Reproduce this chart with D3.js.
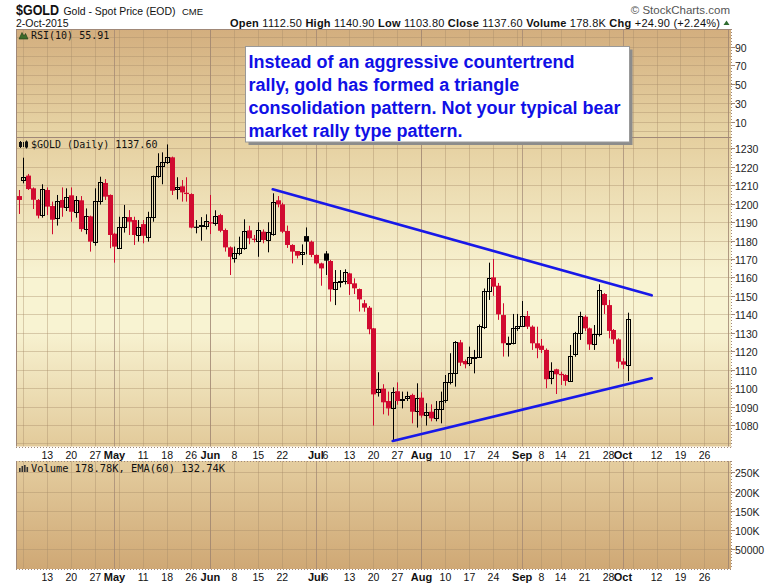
<!DOCTYPE html>
<html>
<head>
<meta charset="utf-8">
<script src="https://cdn.jsdelivr.net/npm/d3@7/dist/d3.min.js"></script>
<style>
  html, body { margin: 0; padding: 0; background: #fff; }
  svg { display: block; font-family: Arial, "Liberation Sans", sans-serif; }
</style>
</head>
<body>
<svg id="chart" width="780" height="586"></svg>
<script>
// ---- Daily $GOLD candles (spot, EOD) ----
const dates = [
  "2015-04-02","2015-04-06","2015-04-07","2015-04-08","2015-04-09","2015-04-10",
  "2015-04-13","2015-04-14","2015-04-15","2015-04-16","2015-04-17",
  "2015-04-20","2015-04-21","2015-04-22","2015-04-23","2015-04-24",
  "2015-04-27","2015-04-28","2015-04-29","2015-04-30","2015-05-01",
  "2015-05-04","2015-05-05","2015-05-06","2015-05-07","2015-05-08",
  "2015-05-11","2015-05-12","2015-05-13","2015-05-14","2015-05-15",
  "2015-05-18","2015-05-19","2015-05-20","2015-05-21","2015-05-22",
  "2015-05-26","2015-05-27","2015-05-28","2015-05-29",
  "2015-06-01","2015-06-02","2015-06-03","2015-06-04","2015-06-05",
  "2015-06-08","2015-06-09","2015-06-10","2015-06-11","2015-06-12",
  "2015-06-15","2015-06-16","2015-06-17","2015-06-18","2015-06-19",
  "2015-06-22","2015-06-23","2015-06-24","2015-06-25","2015-06-26",
  "2015-06-29","2015-06-30","2015-07-01","2015-07-02",
  "2015-07-06","2015-07-07","2015-07-08","2015-07-09","2015-07-10",
  "2015-07-13","2015-07-14","2015-07-15","2015-07-16","2015-07-17",
  "2015-07-20","2015-07-21","2015-07-22","2015-07-23","2015-07-24",
  "2015-07-27","2015-07-28","2015-07-29","2015-07-30","2015-07-31",
  "2015-08-03","2015-08-04","2015-08-05","2015-08-06","2015-08-07",
  "2015-08-10","2015-08-11","2015-08-12","2015-08-13","2015-08-14",
  "2015-08-17","2015-08-18","2015-08-19","2015-08-20","2015-08-21",
  "2015-08-24","2015-08-25","2015-08-26","2015-08-27","2015-08-28",
  "2015-08-31","2015-09-01","2015-09-02","2015-09-03","2015-09-04",
  "2015-09-08","2015-09-09","2015-09-10","2015-09-11",
  "2015-09-14","2015-09-15","2015-09-16","2015-09-17","2015-09-18",
  "2015-09-21","2015-09-22","2015-09-23","2015-09-24","2015-09-25",
  "2015-09-28","2015-09-29","2015-09-30","2015-10-01","2015-10-02"
];
const opens = [
  1204.1,1212.6,1215.2,1208.3,1202.0,1193.6,1207.4,1198.7,1192.0,1202.0,1198.4,
  1204.5,1195.6,1201.8,1186.4,1193.1,1179.0,1201.2,1211.2,1204.7,1183.7,
  1176.1,1187.1,1192.7,1191.1,1183.2,1188.9,1182.1,1192.6,1214.8,1220.6,
  1222.7,1225.1,1207.7,1209.4,1205.9,1205.2,1187.5,1187.9,1187.9,
  1189.9,1189.3,1193.8,1185.7,1176.3,1170.7,1173.1,1175.8,1185.5,1181.0,
  1179.7,1184.8,1180.3,1183.7,1201.8,1199.6,1185.2,1177.6,1174.3,1172.5,
  1182.4,1179.4,1172.2,1167.6,1173.0,1168.9,1153.5,1157.3,1158.2,
  1162.2,1156.8,1153.7,1146.0,1143.6,1132.4,1097.7,1099.7,1093.0,1089.0,
  1098.3,1093.6,1094.5,1096.3,1087.6,1094.8,1085.4,1087.2,1083.6,1088.5,
  1093.6,1103.5,1108.0,1124.8,1114.7,1113.4,1116.8,1116.9,1133.0,1152.8,
  1160.0,1155.5,1139.6,1124.0,1124.3,1132.4,1133.7,1139.1,1133.3,1124.3,
  1123.0,1120.7,1105.3,1110.2,1107.7,1107.1,1104.0,1118.3,1129.7,
  1138.7,1132.4,1123.7,1129.2,1151.0,1145.0,1131.5,1126.4,1114.5,1112.5
];
const highs = [
  1207.4,1224.9,1216.1,1208.8,1202.5,1210.5,1208.8,1201.1,1204.7,1208.8,1208.3,
  1208.8,1204.1,1204.1,1197.4,1193.5,1208.3,1214.6,1213.3,1205.0,1184.2,
  1192.9,1199.3,1196.5,1192.9,1191.1,1191.1,1195.6,1215.2,1227.3,1227.8,
  1232.1,1225.5,1214.3,1212.8,1214.3,1205.6,1191.1,1192.7,1194.2,
  1204.7,1196.4,1194.5,1186.5,1176.8,1176.7,1182.1,1191.5,1188.0,1183.0,
  1189.9,1186.0,1189.9,1205.6,1204.1,1200.5,1188.1,1178.0,1174.3,1177.9,
  1187.1,1180.0,1172.5,1168.0,1174.3,1169.5,1164.0,1164.0,1164.4,
  1162.5,1159.5,1154.0,1147.8,1144.5,1132.6,1108.6,1102.1,1098.1,1100.4,
  1103.1,1098.1,1098.1,1097.0,1102.6,1097.7,1091.8,1091.2,1093.0,1098.1,
  1107.1,1118.9,1125.5,1126.1,1115.5,1122.5,1120.7,1134.5,1154.0,1168.0,
  1170.0,1157.0,1146.0,1127.9,1140.2,1140.2,1147.2,1141.8,1134.0,1133.3,
  1126.6,1121.5,1114.0,1110.5,1108.9,1107.5,1123.4,1130.5,1141.4,
  1139.5,1132.8,1134.2,1156.3,1151.5,1147.8,1132.0,1127.0,1116.2,1140.9
];
const lows = [
  1194.4,1211.0,1207.4,1197.1,1192.0,1192.4,1193.8,1183.4,1188.1,1192.9,1196.0,
  1190.2,1192.4,1184.8,1183.4,1174.0,1177.2,1199.5,1202.0,1175.8,1168.0,
  1175.8,1184.3,1183.0,1177.6,1179.4,1178.5,1179.4,1190.2,1214.0,1210.5,
  1221.5,1204.7,1202.3,1201.1,1201.1,1186.6,1183.9,1179.9,1186.0,
  1183.5,1188.0,1184.5,1174.0,1161.3,1168.0,1172.0,1175.0,1178.0,1179.0,
  1171.2,1178.5,1173.6,1182.6,1198.0,1184.0,1176.0,1167.6,1170.3,1166.7,
  1172.5,1171.0,1167.0,1155.5,1161.3,1146.9,1145.0,1154.6,1156.2,
  1150.5,1151.0,1141.5,1141.4,1129.2,1079.7,1095.4,1085.8,1085.1,1071.3,
  1091.0,1089.0,1093.0,1080.9,1078.6,1084.0,1079.7,1082.0,1082.0,1080.9,
  1092.0,1102.0,1100.8,1112.0,1110.7,1112.0,1108.0,1116.5,1132.0,1147.8,
  1150.0,1137.0,1117.1,1117.1,1123.7,1131.0,1133.3,1132.0,1120.7,1116.2,
  1119.0,1099.9,1102.1,1096.8,1101.7,1101.3,1103.5,1117.0,1126.1,
  1131.0,1120.7,1120.7,1128.0,1140.2,1127.0,1124.0,1110.7,1110.4,1103.8
];
const closes = [
  1202.0,1214.3,1207.9,1202.1,1193.5,1207.7,1198.4,1191.3,1201.2,1197.8,1203.4,
  1195.6,1201.8,1186.2,1193.1,1179.4,1201.2,1211.5,1203.8,1183.0,1176.7,
  1187.1,1192.7,1190.2,1183.0,1187.1,1182.6,1192.6,1214.8,1220.6,1222.7,
  1225.1,1207.0,1209.2,1206.1,1205.2,1187.0,1187.2,1188.2,1190.4,
  1189.3,1193.3,1185.3,1176.3,1171.2,1173.1,1175.8,1185.2,1181.2,1180.6,
  1185.7,1180.3,1184.4,1200.7,1199.6,1184.8,1177.6,1174.0,1171.8,1173.6,
  1179.4,1172.2,1167.6,1164.9,1169.1,1153.5,1157.3,1158.2,1162.7,
  1156.4,1154.1,1148.1,1143.6,1131.9,1096.6,1099.7,1092.3,1089.0,1098.1,
  1093.0,1093.9,1095.7,1087.2,1094.5,1085.1,1086.9,1083.6,1088.7,1093.0,
  1103.5,1108.0,1124.8,1113.8,1112.9,1116.9,1117.0,1133.7,1152.6,1159.5,
  1155.0,1140.0,1124.3,1124.6,1132.4,1133.7,1139.1,1133.3,1124.3,1121.6,
  1120.7,1104.8,1109.5,1107.5,1107.0,1103.9,1117.6,1129.7,1139.1,
  1132.4,1123.7,1129.2,1153.2,1145.0,1131.0,1126.4,1114.3,1112.7,1137.6
];
const priorClose = 1208.0;   // close of the session before the first candle

// Hand-drawn triangle boundaries: [date, price]
const upperTrend = [["2015-06-18", 1207.8], ["2015-10-09", 1150.3]];
const lowerTrend = [["2015-07-24", 1071.3], ["2015-10-09", 1105.3]];

// Axis labels
const dayTicks   = ["2015-04-13","2015-04-20","2015-04-27","2015-05-11","2015-05-18","2015-05-26",
                    "2015-06-08","2015-06-15","2015-06-22","2015-07-06","2015-07-13","2015-07-20",
                    "2015-07-27","2015-08-10","2015-08-17","2015-08-24","2015-09-08","2015-09-14",
                    "2015-09-21","2015-09-28","2015-10-12","2015-10-19","2015-10-26"];
const monthTicks = ["2015-05-01","2015-06-01","2015-07-01","2015-08-03","2015-09-01","2015-10-01"];
const monthNames = ["May","Jun","Jul","Aug","Sep","Oct"];
const priceTicks = [1080,1090,1100,1110,1120,1130,1140,1150,1160,1170,1180,1190,1200,1210,1220,1230];
const rsiTicks   = [10,30,50,70,90];
const volTicks   = [50000,100000,150000,200000,250000];
const volTickLabels = ["50000","100K","150K","200K","250K"];

const header = {
  symbol: "$GOLD", name: "Gold - Spot Price (EOD)", exch: "CME", date: "2-Oct-2015",
  fields: [["Open","1112.50"],["High","1140.90"],["Low","1103.80"],["Close","1137.60"],
           ["Volume","178.8K"],["Chg","+24.90 (+2.24%)"]]
};
const rsiLabel = "RSI(10) 55.91";
const priceLabel = "$GOLD (Daily) 1137.60";
const volLabel = "Volume 178.78K, EMA(60) 132.74K";
const note = ["Instead of an aggressive countertrend",
              "rally, gold has formed a triangle",
              "consolidation pattern. Not your typical bear",
              "market rally type pattern."];

// ---- layout ----
const L = 16, R = 731;
const rsiP = {top: 29, bottom: 137};
const priceP = {top: 137, bottom: 446.5};
const volP = {top: 461, bottom: 569};

const svg = d3.select("#chart");
const defs = svg.append("defs");

function grad(id, stops) {
  const g = defs.append("linearGradient").attr("id", id)
    .attr("x1", 0).attr("y1", 0).attr("x2", 0).attr("y2", 1);
  stops.forEach(([o, c]) => g.append("stop").attr("offset", o).attr("stop-color", c));
}
grad("gRsi",   [[0, "#d3ae7e"], [1, "#e8d6a7"]]);
grad("gPrice", [[0, "#e5cf9f"], [0.45, "#f8f3d2"], [0.62, "#f8f3d2"], [1, "#e2ca9a"]]);
grad("gVol",   [[0, "#e4cd9f"], [1, "#cfa875"]]);

defs.append("clipPath").attr("id", "clipPrice").append("rect")
  .attr("x", L).attr("y", priceP.top).attr("width", R - L).attr("height", priceP.bottom - priceP.top);

// ---- scales ----
const parse = d3.timeParse("%Y-%m-%d");
const fmt = d3.timeFormat("%Y-%m-%d");
const future = d3.timeDay.range(parse("2015-10-05"), parse("2015-11-03"))
  .filter(d => d.getDay() !== 0 && d.getDay() !== 6).map(fmt);
const axisDates = dates.concat(future);

const x = d3.scalePoint().domain(axisDates).range([18.5, 18.5 + 4.797 * (axisDates.length - 1)]);
const y = d3.scaleLinear().domain([1080, 1230]).range([425, 148.3]);
const yRsi = d3.scaleLinear().domain([10, 90]).range([121.7, 46.7]);
const yVol = d3.scaleLinear().domain([0, 250000]).range([568.5, 472.3]);

// ---- panel backgrounds ----
[[rsiP, "gRsi"], [priceP, "gPrice"], [volP, "gVol"]].forEach(([p, g]) => {
  svg.append("rect").attr("x", L).attr("y", p.top).attr("width", R - L)
    .attr("height", p.bottom - p.top).attr("fill", `url(#${g})`);
});

// ---- vertical grid: first session of each week and of each month ----
const weekStarts = [], monthStarts = [];
axisDates.forEach((d, i) => {
  if (i === 0) return;
  const cur = parse(d), prev = parse(axisDates[i - 1]);
  if (cur.getMonth() !== prev.getMonth()) monthStarts.push(d);
  if (d3.timeMonday.floor(cur).getTime() !== d3.timeMonday.floor(prev).getTime()) weekStarts.push(d);
});
const vGrid = svg.append("g");
[rsiP, priceP, volP].forEach(p => {
  vGrid.selectAll(null).data(weekStarts).enter().append("line")
    .attr("x1", d => Math.round(x(d)) + 0.5).attr("x2", d => Math.round(x(d)) + 0.5)
    .attr("y1", p.top).attr("y2", p.bottom)
    .attr("stroke", "#a88c68").attr("stroke-opacity", 0.4);
  vGrid.selectAll(null).data(monthStarts).enter().append("line")
    .attr("x1", d => Math.round(x(d)) + 0.5).attr("x2", d => Math.round(x(d)) + 0.5)
    .attr("y1", p.top).attr("y2", p.bottom)
    .attr("stroke", "#9a8070").attr("stroke-opacity", 0.65);
});

// ---- horizontal grid ----
const hGrid = svg.append("g").attr("stroke", "#a88c68").attr("stroke-opacity", 0.4);
d3.range(0, 101, 10).forEach(v => {
  const yy = Math.round(yRsi(v)) + 0.5;
  if (yy > rsiP.top && yy < rsiP.bottom) hGrid.append("line").attr("x1", L).attr("x2", R).attr("y1", yy).attr("y2", yy);
});
d3.range(1070, 1241, 10).forEach(v => {
  const yy = Math.round(y(v)) + 0.5;
  if (yy > priceP.top && yy < priceP.bottom) hGrid.append("line").attr("x1", L).attr("x2", R).attr("y1", yy).attr("y2", yy);
});
volTicks.forEach(v => {
  const yy = Math.round(yVol(v)) + 0.5;
  hGrid.append("line").attr("x1", L).attr("x2", R).attr("y1", yy).attr("y2", yy);
});

// ---- candles ----
const candles = dates.map((d, i) => ({
  date: d, o: opens[i], h: highs[i], l: lows[i], c: closes[i],
  pc: i === 0 ? priorClose : closes[i - 1]
}));
const red = "#d10a30";
const gC = svg.append("g").attr("clip-path", "url(#clipPrice)");
candles.forEach(k => {
  const cx = Math.round(x(k.date));
  const col = k.c < k.pc ? red : "#000";
  const hollow = k.c > k.o;
  gC.append("line").attr("x1", cx + 0.5).attr("x2", cx + 0.5)
    .attr("y1", y(k.h)).attr("y2", y(k.l)).attr("stroke", col).attr("stroke-width", 1);
  const top = y(Math.max(k.o, k.c)), bot = y(Math.min(k.o, k.c));
  if (hollow) {
    const t = Math.round(top) + 0.5, b = Math.max(Math.round(bot) + 0.5, t + 1);
    gC.append("rect").attr("x", cx - 1.5).attr("y", t).attr("width", 4).attr("height", b - t)
      .attr("fill", "none").attr("stroke", col).attr("stroke-width", 1);
  } else {
    gC.append("rect").attr("x", cx - 2).attr("y", top).attr("width", 5)
      .attr("height", Math.max(bot - top, 1.2)).attr("fill", col);
  }
});

// ---- triangle trendlines ----
const trend = d3.line().x(d => x(d[0])).y(d => y(d[1]));
[upperTrend, lowerTrend].forEach(t => {
  svg.append("path").attr("d", trend(t)).attr("fill", "none")
    .attr("stroke", "#1818e8").attr("stroke-width", 2.6).attr("stroke-linecap", "round");
});

// ---- panel frames ----
const frame = svg.append("g").attr("fill", "none");
frame.append("line").attr("x1", L + 0.5).attr("x2", L + 0.5).attr("y1", rsiP.top).attr("y2", priceP.bottom).attr("stroke", "#a08878");
frame.append("line").attr("x1", L + 0.5).attr("x2", L + 0.5).attr("y1", volP.top).attr("y2", volP.bottom).attr("stroke", "#a08878");
frame.append("line").attr("x1", L).attr("x2", R).attr("y1", rsiP.top + 0.5).attr("y2", rsiP.top + 0.5).attr("stroke", "#a08878");
frame.append("line").attr("x1", L).attr("x2", R).attr("y1", rsiP.bottom + 0.5).attr("y2", rsiP.bottom + 0.5).attr("stroke", "#a08878");
[priceP.bottom, volP.top, volP.bottom].forEach(yy => {
  frame.append("line").attr("x1", L).attr("x2", R + 1).attr("y1", Math.round(yy) + 0.5).attr("y2", Math.round(yy) + 0.5)
    .attr("stroke", "#a08878").attr("stroke-dasharray", "1,2");
});
[[rsiP.top, priceP.bottom], [volP.top, volP.bottom]].forEach(([a, b]) => {
  frame.append("line").attr("x1", R + 0.5).attr("x2", R + 0.5).attr("y1", a).attr("y2", b)
    .attr("stroke", "#a08878").attr("stroke-dasharray", "1,2");
});

// ---- right axes ----
function rightAxis(scale, ticks, labels) {
  const g = svg.append("g").attr("font-size", 10.5).attr("fill", "#222");
  ticks.forEach((v, i) => {
    const yy = Math.round(scale(v)) + 0.5;
    g.append("line").attr("x1", R).attr("x2", R + 4).attr("y1", yy).attr("y2", yy).attr("stroke", "#a08878");
    g.append("text").attr("x", R + 4).attr("y", yy + 4).text(labels ? labels[i] : v);
  });
}
rightAxis(yRsi, rsiTicks);
rightAxis(y, priceTicks);
rightAxis(yVol, volTicks, volTickLabels);

// ---- date axes under price and volume panels ----
[458.5, 580.5].forEach(base => {
  const g = svg.append("g").attr("text-anchor", "middle").attr("fill", "#111");
  g.selectAll(null).data(dayTicks).enter().append("text")
    .attr("x", d => x(d)).attr("y", base).attr("font-size", 10.5).text(d => +d.slice(8));
  g.selectAll(null).data(monthTicks).enter().append("text")
    .attr("x", d => x(d)).attr("y", base).attr("font-size", 11).attr("font-weight", "bold")
    .text((d, i) => monthNames[i]);
});

// ---- panel captions ----
const mono = "'DejaVu Sans Mono', 'Liberation Mono', monospace";
svg.append("text").attr("x", 31).attr("y", 39).attr("font-family", mono).attr("font-size", 10).attr("fill", "#111").text(rsiLabel);
svg.append("text").attr("x", 31).attr("y", 148).attr("font-family", mono).attr("font-size", 10).attr("fill", "#111").text(priceLabel);
svg.append("text").attr("x", 31).attr("y", 472).attr("font-family", mono).attr("font-size", 10.4).attr("fill", "#111").text(volLabel);
// caption icons
svg.append("path").attr("d", "M19,39 L22,32.5 L24,36 L25.5,33.5 L28,39 Z").attr("fill", "#3d6b2a").attr("stroke", "#203a14").attr("stroke-width", 0.6);
const ic = svg.append("g").attr("stroke", "#111").attr("stroke-width", 1);
[[20.5, 141, 148], [23.5, 142, 147], [26.5, 140.5, 148.5]].forEach(([xx, a, b]) =>
  ic.append("line").attr("x1", xx).attr("x2", xx).attr("y1", a).attr("y2", b));
ic.append("rect").attr("x", 19.5).attr("y", 142.5).attr("width", 2).attr("height", 4).attr("fill", "none");
ic.append("rect").attr("x", 25.5).attr("y", 142).attr("width", 2).attr("height", 5).attr("fill", "#111");
const vi = svg.append("g").attr("fill", "#333");
[[19, 468, 4], [21.5, 466, 6], [24, 465, 7], [26.5, 467, 5]].forEach(([xx, yy, h]) =>
  vi.append("rect").attr("x", xx).attr("y", yy).attr("width", 1.6).attr("height", h));

// ---- header ----
svg.append("text").attr("x", 16).attr("y", 15).attr("font-size", 14).attr("font-weight", "bold").attr("fill", "#111")
  .attr("textLength", 43).attr("lengthAdjust", "spacingAndGlyphs").text(header.symbol);
svg.append("text").attr("x", 63.5).attr("y", 14.5).attr("font-size", 11).attr("fill", "#111")
  .attr("textLength", 112).attr("lengthAdjust", "spacingAndGlyphs").text(header.name);
svg.append("text").attr("x", 182).attr("y", 14.5).attr("font-size", 9.5).attr("fill", "#111").text(header.exch);
svg.append("text").attr("x", 16).attr("y", 26.5).attr("font-size", 10.5).attr("fill", "#111").text(header.date);
svg.append("text").attr("x", 730).attr("y", 14).attr("text-anchor", "end").attr("font-size", 11.5).attr("fill", "#555").text("\u00a9 StockCharts.com");
const hdr = svg.append("text").attr("x", 230).attr("y", 26.5).attr("font-size", 11).attr("fill", "#111")
  .attr("textLength", 490).attr("lengthAdjust", "spacing");
header.fields.forEach(([k, v], i) => {
  hdr.append("tspan").attr("font-weight", "bold").text((i ? " " : "") + k + " ");
  hdr.append("tspan").text(v);
});
svg.append("path").attr("d", "M723.5,25 L726.5,20.5 L729.5,25 Z").attr("fill", "#2f6b2f");

// ---- annotation box ----
const bx = 245.5, by = 46.5, bw = 384, bh = 95.5;
svg.append("rect").attr("x", bx + 3).attr("y", by + 3).attr("width", bw).attr("height", bh).attr("fill", "#8c8c8c");
svg.append("rect").attr("x", bx).attr("y", by).attr("width", bw).attr("height", bh).attr("fill", "#fff").attr("stroke", "#999");
svg.append("g").attr("font-size", 18).attr("font-weight", "bold").attr("fill", "#1010e6")
  .selectAll("text").data(note).enter().append("text")
  .attr("x", 248.5).attr("y", (d, i) => 68.3 + i * 22.8).text(d => d);
</script>
</body>
</html>
